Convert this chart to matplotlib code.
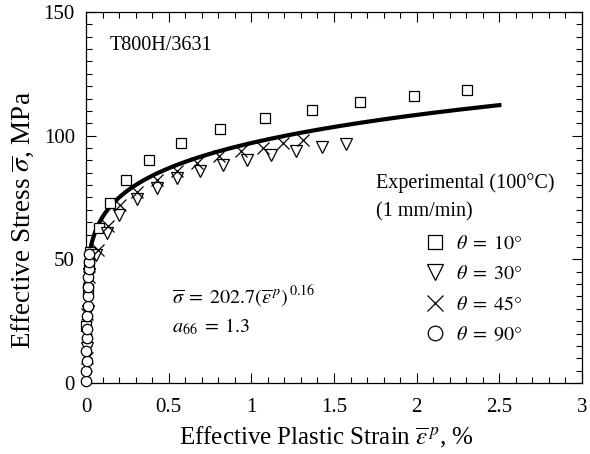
import numpy as np
import matplotlib
matplotlib.use("Agg")
from matplotlib import pyplot as plt
from matplotlib.ticker import MultipleLocator, FormatStrFormatter

plt.rcParams["font.family"] = ["Liberation Serif", "DejaVu Serif"]
plt.rcParams["mathtext.fontset"] = "stix"
plt.rcParams["font.size"] = 14

# test data: effective plastic strain (%) vs effective stress (MPa)
sq_x = [0.0, 0.01, 0.015, 0.024, 0.079, 0.145, 0.242, 0.381, 0.575, 0.811, 1.083, 1.367, 1.658, 1.984, 2.305]
sq_y = [23, 38, 48, 53.0, 62.7, 72.8, 82.1, 90.2, 97.0, 102.7, 107.2, 110.4, 113.6, 116.0, 118.5]

tri_x = [0.005, 0.01, 0.02, 0.06, 0.127, 0.20, 0.309, 0.43, 0.55, 0.69, 0.829, 0.974, 1.119, 1.27, 1.428, 1.573]
tri_y = [14, 29, 44, 51.8, 60.7, 68.0, 74.5, 78.9, 83.0, 85.8, 88.3, 90.3, 92.3, 93.9, 95.5, 96.8]

x45_x = [0.005, 0.005, 0.02, 0.073, 0.133, 0.206, 0.309, 0.43, 0.55, 0.671, 0.805, 0.938, 1.071, 1.192, 1.313]
x45_y = [10, 28, 43, 53.8, 63.6, 72.1, 77.3, 82.2, 85.8, 89.1, 91.9, 93.9, 95.1, 97.2, 98.4]

circ_x = [0.0, 0.0, 0.005, 0.0, 0.005, 0.005, 0.005, 0.01, 0.01, 0.01, 0.01, 0.015, 0.02, 0.02]
circ_y = [1, 5, 9, 13, 18, 22, 27, 31, 35, 39, 43, 46, 49, 52]

# power-law fit: sigma = K * (eps_p)^n, eps_p as a fraction
K = 202.7
n = 0.16
fit_x = np.linspace(0.02, 2.5, 400)
fit_y = K * (fit_x / 100.0) ** n

fig = plt.figure(figsize=(5.9, 4.54), dpi=100)
ax = fig.add_axes([0.1458, 0.1564, 0.8406, 0.8172])

ax.plot(fit_x, fit_y, color="black", lw=3.0, zorder=2)

mk = dict(linestyle="none", mfc="white", mec="black", mew=0.9, clip_on=False, zorder=3)
h1, = ax.plot(sq_x, sq_y, marker="s", ms=7.5, label=r"$\theta\;=\;10\degree$", **mk)
h2, = ax.plot(tri_x, tri_y, marker="v", ms=8, label=r"$\theta\;=\;30\degree$", **mk)
h3, = ax.plot(x45_x, x45_y, marker="x", ms=8.5, label=r"$\theta\;=\;45\degree$", **mk)
h4, = ax.plot(circ_x, circ_y, marker="o", ms=7.5, label=r"$\theta\;=\;90\degree$", **mk)

ax.set_xlim(0, 3)
ax.set_ylim(0, 150)
ax.xaxis.set_major_locator(MultipleLocator(0.5))
ax.xaxis.set_minor_locator(MultipleLocator(0.1))
ax.xaxis.set_major_formatter(FormatStrFormatter("%g"))
ax.yaxis.set_major_locator(MultipleLocator(50))
ax.yaxis.set_minor_locator(MultipleLocator(5))
ax.tick_params(which="both", direction="in", top=True, right=True, labelsize=15)
ax.tick_params(which="major", length=7, width=0.8)
ax.tick_params(which="minor", length=4, width=0.8)
ax.tick_params(axis="x", pad=11)
ax.tick_params(axis="y", pad=8)
for s in ax.spines.values():
    s.set_linewidth(0.9)

ax.set_xlabel(r"Effective Plastic Strain $\overline{\varepsilon}^{\,p}$, %", fontsize=18)
ax.set_ylabel(r"Effective Stress $\overline{\sigma}$, MPa", fontsize=19.5)
ax.xaxis.set_label_coords(0.484, -0.113)
ax.yaxis.set_label_coords(-0.100, 0.44)

ax.text(0.048, 0.911, "T800H/3631", transform=ax.transAxes, fontsize=14.5, va="center")
ax.text(0.173, 0.232, r"$\overline{\sigma}\;=\;202.7(\overline{\varepsilon}^{\,p})^{\,0.16}$",
        transform=ax.transAxes, fontsize=14.5, va="center")
ax.text(0.173, 0.151, r"$a_{66}\;=\;1.3$", transform=ax.transAxes, fontsize=14.5, va="center")
ax.text(0.585, 0.539, "Experimental (100°C)", transform=ax.transAxes, fontsize=14.5, va="center")
ax.text(0.585, 0.461, "(1 mm/min)", transform=ax.transAxes, fontsize=14.5, va="center")

ax.legend(handles=[h1, h2, h3, h4], loc="upper left", bbox_to_anchor=(0.668, 0.42),
          frameon=False, fontsize=14.5, handlelength=1.0, handletextpad=0.5,
          labelspacing=0.55, borderaxespad=0, markerscale=1.4)

fig.savefig("out.png", dpi=100)
